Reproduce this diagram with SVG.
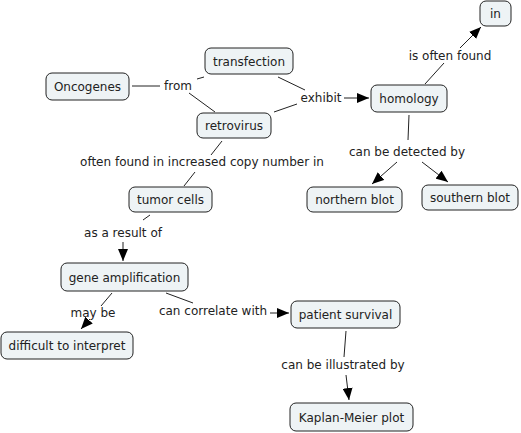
<svg xmlns="http://www.w3.org/2000/svg" width="521" height="433" viewBox="0 0 521 433">
<defs>
<marker id="ah" viewBox="0 0 12 10" refX="12" refY="5" markerWidth="12" markerHeight="10" markerUnits="userSpaceOnUse" orient="auto">
<path d="M0,0 L12,5 L0,10 z" fill="#000"/>
</marker>
<style>
.n rect{fill:#eef3f5;stroke:#222;stroke-width:1}
text{font-family:"DejaVu Sans",Verdana,sans-serif;font-size:12px;fill:#222;text-anchor:middle}
.c line{stroke:#222;stroke-width:1}
.c line.a{marker-end:url(#ah)}
</style>
</defs>
<rect width="521" height="433" fill="#fff"/>
<g class="c" id="connectors">
<line x1="132" y1="86" x2="160" y2="86"/>
<line x1="197" y1="79" x2="204" y2="77"/>
<line x1="189" y1="93" x2="215" y2="112"/>
<line x1="278" y1="77" x2="305" y2="90"/>
<line x1="274" y1="112" x2="297" y2="104"/>
<line class="a" x1="344" y1="98" x2="369" y2="98"/>
<line x1="425" y1="84" x2="444" y2="63"/>
<line class="a" x1="460" y1="48" x2="481" y2="27"/>
<line x1="409" y1="115" x2="408" y2="140"/>
<line class="a" x1="397" y1="162" x2="372" y2="184"/>
<line class="a" x1="422" y1="162" x2="448" y2="182"/>
<line x1="222" y1="141" x2="211" y2="155"/>
<line x1="195" y1="172" x2="184" y2="186"/>
<line x1="150" y1="215" x2="143" y2="220"/>
<line class="a" x1="123" y1="242" x2="123" y2="261"/>
<line x1="112" y1="293" x2="101" y2="306"/>
<line class="a" x1="90" y1="319" x2="81" y2="329"/>
<line x1="166" y1="293" x2="193" y2="303"/>
<line class="a" x1="270" y1="313" x2="289" y2="313"/>
<line x1="346" y1="331" x2="344" y2="357"/>
<line class="a" x1="346" y1="375" x2="349" y2="400"/>
</g>
<g id="labels">
<text x="178" y="90">from</text>
<text x="321" y="102">exhibit</text>
<text x="450" y="60">is often found</text>
<text x="407" y="156">can be detected by</text>
<text x="202" y="166">often found in increased copy number in</text>
<text x="123" y="237">as a result of</text>
<text x="93" y="317">may be</text>
<text x="213" y="315">can correlate with</text>
<text x="343" y="369">can be illustrated by</text>
</g>
<g class="n" id="oncogenes"><rect x="46" y="73" width="83" height="27" rx="6"/><text x="87.5" y="91">Oncogenes</text></g>
<g class="n" id="transfection"><rect x="205" y="48" width="88" height="26" rx="6"/><text x="249" y="65.5">transfection</text></g>
<g class="n" id="retrovirus"><rect x="197" y="113" width="74" height="25" rx="6"/><text x="234" y="130">retrovirus</text></g>
<g class="n" id="homology"><rect x="371" y="85" width="76" height="27" rx="6"/><text x="409" y="103">homology</text></g>
<g class="n" id="in"><rect x="480" y="1" width="31" height="25" rx="6"/><text x="495.5" y="18">in</text></g>
<g class="n" id="northern"><rect x="307" y="187" width="95" height="25" rx="6"/><text x="354.5" y="204">northern blot</text></g>
<g class="n" id="southern"><rect x="422" y="185" width="96" height="25" rx="6"/><text x="470" y="202">southern blot</text></g>
<g class="n" id="tumor"><rect x="129" y="187" width="83" height="25" rx="6"/><text x="170.5" y="204">tumor cells</text></g>
<g class="n" id="geneamp"><rect x="61" y="263" width="127" height="28" rx="6"/><text x="124.5" y="281.5">gene amplification</text></g>
<g class="n" id="difficult"><rect x="1" y="332" width="132" height="27" rx="6"/><text x="67" y="350">difficult to interpret</text></g>
<g class="n" id="patient"><rect x="291" y="301" width="109" height="27" rx="6"/><text x="345.5" y="319">patient survival</text></g>
<g class="n" id="kaplan"><rect x="290" y="403" width="123" height="28" rx="6"/><text x="351.5" y="421.5">Kaplan-Meier plot</text></g>
</svg>
